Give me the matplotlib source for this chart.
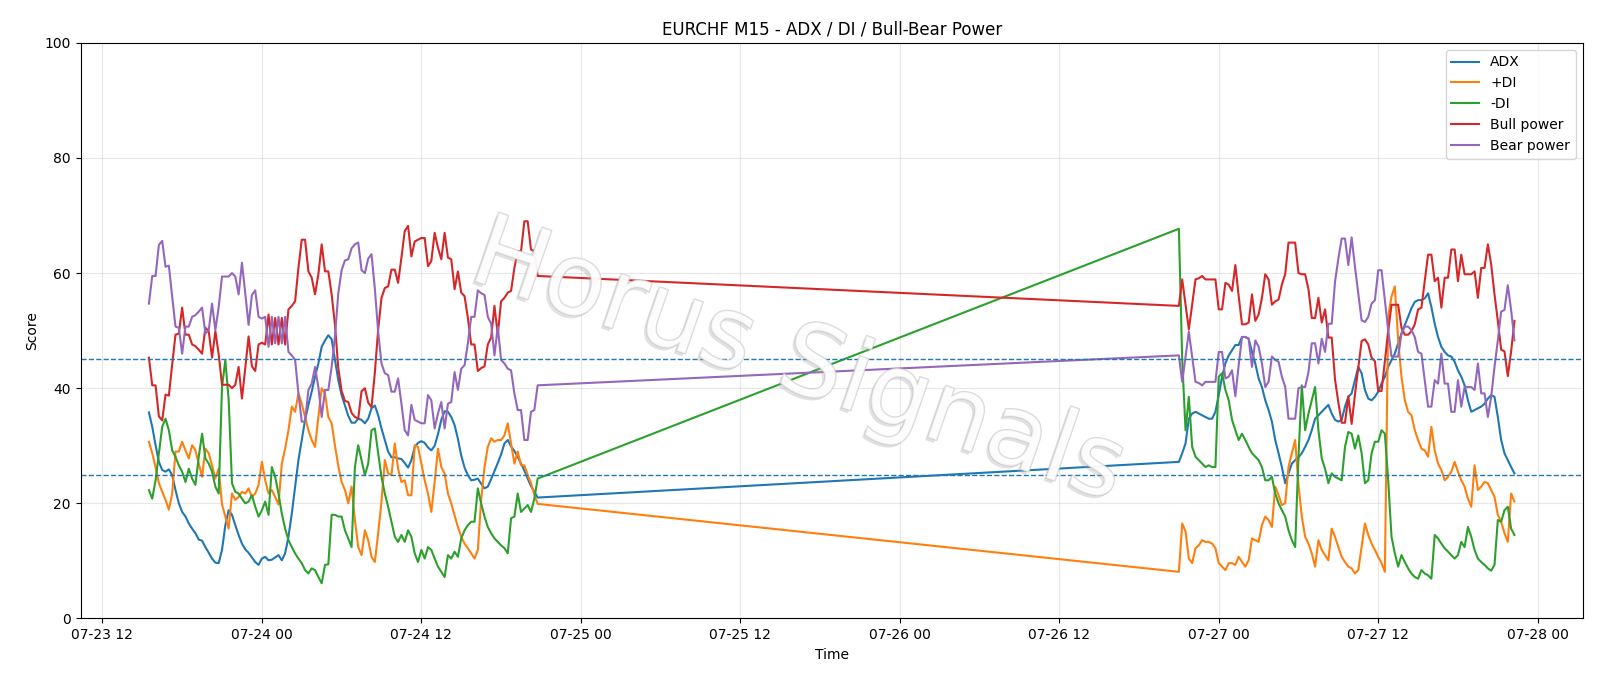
import pandas as pd
import matplotlib
matplotlib.use('Agg')
import matplotlib.pyplot as plt
import matplotlib.dates as mdates
import matplotlib.patheffects as pe

# M15 bars: first block (Thu/Fri), second block (Sun open -> Mon)
start1 = '2020-07-23 15:30'
start2 = '2020-07-26 21:00'

adx1 = [35.8, 33.3, 30.1, 27.2, 25.8, 25.5, 25.9, 24.9, 22.3, 20.0,
        18.5, 17.7, 16.5, 15.6, 14.8, 13.7, 13.5, 12.4, 11.4, 10.4,
        9.7, 9.6, 11.9, 16.2, 18.8, 18.0, 16.2, 14.5, 13.0, 12.0,
        11.4, 10.6, 9.8, 9.3, 10.4, 10.7, 10.1, 10.2, 10.6, 11.0,
        10.1, 11.3, 14.2, 18.2, 22.9, 27.5, 31.0, 34.5, 37.1, 39.4,
        42.0, 44.3, 47.2, 48.3, 49.2, 48.5, 45.0, 41.4, 38.8, 37.0,
        35.2, 34.0, 34.0, 34.7, 34.5, 33.9, 34.7, 36.5, 37.0, 35.3,
        33.0, 31.0, 29.0, 28.0, 28.0, 27.8, 27.7, 27.0, 26.2, 27.5,
        29.8, 30.5, 30.8, 30.5, 29.7, 29.2, 30.0, 32.0, 34.5, 36.0,
        35.9, 35.0, 33.6, 31.2, 28.3, 26.2, 24.9, 24.0, 24.1, 24.3,
        23.4, 22.6, 22.9, 24.2, 25.6, 27.0, 28.5, 30.4, 31.0, 29.9,
        29.1, 28.1, 26.9, 25.7, 24.3, 23.0, 22.0, 21.0]
pdi1 = [30.7, 28.7, 26.3, 23.5, 22.0, 20.6, 18.9, 21.7, 29.0, 29.0,
        30.7, 29.2, 27.8, 30.1, 29.2, 26.9, 24.6, 29.5, 28.7, 26.6,
        24.3, 26.0, 19.8, 17.7, 15.6, 21.7, 20.6, 21.1, 22.0, 21.7,
        22.6, 21.1, 21.7, 23.2, 27.2, 24.0, 21.7, 22.3, 21.1, 19.8,
        26.9, 29.5, 32.7, 36.8, 35.9, 39.1, 37.3, 35.0, 32.7, 31.0,
        29.8, 35.0, 40.0, 39.1, 35.0, 33.9, 30.0, 26.5, 23.7, 22.3,
        20.0, 22.9, 17.1, 12.4, 11.0, 15.3, 13.6, 10.7, 9.8, 14.8,
        20.3, 27.5, 25.2, 24.9, 30.4, 26.0, 23.7, 24.0, 21.4, 21.4,
        30.1, 29.8, 26.9, 24.0, 21.7, 18.5, 23.7, 29.5, 26.3, 25.2,
        21.7, 20.0, 17.9, 15.9, 14.2, 13.0, 12.2, 11.3, 10.4, 11.9,
        20.6, 26.3, 29.8, 31.3, 30.7, 31.0, 31.0, 31.8, 33.9, 30.4,
        26.9, 29.0, 26.6, 26.6, 24.9, 23.5, 21.5, 19.9]
mdi1 = [22.3, 20.8, 24.0, 28.7, 33.3, 34.7, 32.7, 29.2, 28.1, 26.6,
        25.5, 23.7, 26.0, 24.3, 23.2, 28.1, 32.1, 27.8, 26.9, 25.5,
        22.9, 21.7, 40.2, 44.9, 38.0, 23.5, 22.0, 21.7, 20.8, 20.0,
        20.3, 21.4, 19.4, 17.7, 18.8, 20.3, 18.0, 26.3, 24.6, 21.7,
        18.2, 15.6, 13.6, 12.4, 11.3, 10.4, 9.6, 8.4, 7.8, 8.7,
        8.4, 7.2, 6.1, 9.3, 9.4, 18.0, 18.0, 17.7, 17.7, 15.3,
        13.9, 12.4, 26.3, 30.1, 27.5, 24.9, 26.9, 32.7, 33.0, 28.7,
        24.6, 21.7, 19.4, 16.8, 14.2, 13.3, 14.5, 13.3, 15.3, 14.2,
        11.3, 9.8, 11.9, 10.4, 12.4, 11.9, 10.4, 9.0, 8.1, 7.2,
        11.0, 10.4, 11.6, 10.7, 13.9, 15.3, 16.2, 16.8, 16.8, 22.6,
        20.0, 17.7, 15.9, 14.8, 13.9, 13.3, 12.7, 12.2, 11.3, 17.4,
        17.7, 21.7, 18.5, 19.1, 19.7, 18.5, 20.8, 24.3]
bull1 = [45.3, 40.5, 40.5, 35.1, 34.4, 38.9, 38.7, 44.1, 49.3, 49.5,
         54.0, 49.3, 49.3, 47.6, 47.3, 46.7, 46.0, 50.5, 49.9, 45.3,
         49.9, 45.9, 40.6, 40.6, 40.6, 40.0, 40.6, 43.7, 38.2, 43.5,
         49.0, 43.8, 43.0, 47.6, 47.9, 47.6, 52.8, 47.6, 52.2, 47.6,
         52.2, 47.6, 53.7, 54.3, 55.1, 60.9, 65.8, 65.8, 60.3, 59.2,
         56.3, 59.8, 65.0, 60.3, 60.3, 56.3, 51.0, 43.5, 39.5, 37.8,
         37.6, 35.7, 35.0, 34.7, 39.5, 40.0, 37.5, 36.7, 42.7, 50.2,
         55.7, 57.4, 57.7, 60.6, 60.6, 58.3, 62.7, 67.3, 68.2, 62.9,
         65.5, 65.8, 66.1, 66.1, 61.2, 62.1, 67.0, 64.4, 62.4, 67.0,
         62.7, 62.4, 57.2, 60.3, 56.6, 56.0, 52.2, 47.6, 47.6, 43.0,
         43.5, 43.8, 47.6, 48.8, 54.3, 49.3, 55.1, 55.7, 56.6, 56.9,
         60.9, 63.8, 63.8, 69.0, 69.0, 64.1, 63.8, 59.5]
bear1 = [54.7, 59.5, 59.5, 64.9, 65.6, 61.1, 61.3, 55.9, 50.7, 50.5,
         46.0, 50.7, 50.7, 52.4, 52.7, 53.3, 54.0, 49.5, 50.1, 54.7,
         50.1, 54.1, 59.4, 59.4, 59.4, 60.0, 59.4, 56.3, 61.8, 56.5,
         51.0, 56.2, 57.0, 52.4, 52.1, 52.4, 47.2, 52.4, 47.8, 52.4,
         47.8, 52.4, 46.3, 45.7, 44.9, 39.1, 34.2, 34.2, 39.7, 40.8,
         43.7, 40.2, 35.0, 39.7, 39.7, 43.7, 49.0, 56.5, 60.5, 62.2,
         62.4, 64.3, 65.0, 65.3, 60.5, 60.0, 62.5, 63.3, 57.3, 49.8,
         44.3, 42.6, 42.3, 39.4, 39.4, 41.7, 37.3, 32.7, 31.8, 37.1,
         34.5, 34.2, 33.9, 33.9, 38.8, 37.9, 33.0, 35.6, 37.6, 33.0,
         37.3, 37.6, 42.8, 39.7, 43.4, 44.0, 47.8, 52.4, 52.4, 57.0,
         56.5, 56.2, 52.4, 51.2, 45.7, 50.7, 44.9, 44.3, 43.4, 43.1,
         39.1, 36.2, 36.2, 31.0, 31.0, 35.9, 36.2, 40.5]

adx2 = [27.2, 28.7, 30.4, 34.7, 35.6, 35.9, 35.6, 35.3, 35.0, 34.7,
        34.7, 35.9, 38.8, 42.0, 44.3, 45.7, 46.6, 47.5, 47.5, 48.9,
        48.9, 48.6, 46.3, 44.3, 41.7, 40.2, 37.9, 36.2, 34.2, 31.0,
        28.7, 26.3, 23.5, 25.2, 26.9, 27.5, 28.0, 28.7, 29.8, 31.0,
        32.7, 34.7, 35.3, 35.9, 36.5, 37.1, 35.6, 34.5, 34.2, 34.5,
        36.8, 38.5, 39.1, 41.4, 43.7, 42.6, 39.7, 38.2, 37.9, 38.5,
        39.4, 40.8, 42.0, 43.7, 44.9, 46.0, 47.8, 49.5, 51.0, 52.4,
        53.9, 55.0, 55.3, 55.3, 55.6, 56.5, 54.1, 51.2, 48.9, 47.2,
        46.3, 45.7, 45.5, 44.6, 43.1, 42.0, 40.5, 37.9, 35.9, 36.2,
        36.5, 36.8, 37.3, 38.2, 38.8, 38.5, 35.0, 31.0, 28.7, 27.5,
        26.3, 25.2]
pdi2 = [8.1, 16.5, 15.1, 10.4, 9.6, 12.2, 12.7, 13.6, 13.3, 13.3,
        13.0, 12.2, 9.6, 9.0, 8.4, 9.6, 9.6, 9.3, 10.7, 9.8,
        9.0, 10.1, 13.9, 13.6, 13.3, 16.2, 17.7, 17.1, 15.9, 22.9,
        21.4, 19.7, 20.0, 26.3, 28.7, 31.0, 23.2, 17.7, 14.2, 13.0,
        11.3, 9.0, 13.6, 11.9, 11.0, 10.1, 15.6, 14.2, 12.4, 10.7,
        9.8, 9.0, 8.7, 7.8, 8.4, 12.4, 16.5, 14.5, 13.0, 11.9,
        10.7, 9.6, 8.1, 52.5, 55.9, 57.7, 48.3, 42.0, 37.9, 35.9,
        35.3, 32.7, 31.0, 29.5, 29.2, 28.1, 33.3, 29.2, 26.9, 25.8,
        24.0, 24.6, 25.5, 27.2, 25.5, 24.0, 22.9, 20.8, 19.4, 26.6,
        22.3, 22.9, 23.7, 23.5, 22.3, 21.1, 18.0, 16.8, 14.8, 13.3,
        21.7, 20.3]
mdi2 = [67.7, 45.0, 32.7, 38.5, 29.8, 28.1, 27.5, 26.9, 26.3, 26.6,
        26.3, 26.3, 42.0, 42.6, 39.7, 37.9, 34.5, 32.7, 31.0, 32.1,
        31.0, 29.8, 28.7, 28.1, 27.5, 26.3, 24.0, 24.0, 24.6, 21.7,
        20.0, 18.8, 17.7, 15.3, 13.6, 12.4, 28.1, 40.5, 32.7, 35.6,
        37.9, 40.2, 32.7, 27.8, 26.0, 23.5, 25.2, 24.6, 24.3, 24.0,
        29.8, 32.4, 32.1, 29.5, 31.8, 28.7, 23.5, 24.0, 28.7, 30.7,
        30.7, 32.7, 32.1, 24.0, 14.2, 11.3, 9.0, 11.0, 9.8, 8.7,
        7.8, 7.2, 6.9, 8.4, 7.8, 7.5, 6.9, 14.5, 13.9, 13.0,
        12.2, 11.6, 11.0, 10.4, 11.0, 13.3, 12.4, 15.9, 14.2, 11.9,
        10.4, 9.8, 9.3, 8.7, 8.3, 9.3, 17.1, 16.8, 18.8, 19.4,
        15.6, 14.5]
bull2 = [54.3, 58.9, 54.5, 50.2, 54.5, 58.9, 59.1, 59.5, 58.9, 58.9,
         58.9, 58.9, 53.7, 53.7, 58.3, 58.0, 56.9, 61.4, 56.0, 51.1,
         51.1, 51.4, 56.3, 51.7, 52.8, 55.7, 59.8, 58.9, 54.5, 55.1,
         55.4, 58.0, 59.8, 65.3, 65.3, 65.3, 60.0, 59.8, 59.8, 57.2,
         52.2, 52.2, 55.7, 51.4, 53.7, 48.8, 48.8, 41.5, 37.5, 34.0,
         34.0, 38.6, 33.8, 38.9, 43.5, 48.2, 48.5, 47.6, 45.3, 44.7,
         39.5, 39.5, 44.7, 49.9, 54.5, 54.5, 54.5, 50.5, 49.3, 49.3,
         49.9, 51.1, 53.7, 54.0, 58.6, 63.2, 63.2, 58.6, 59.2, 54.0,
         59.2, 59.2, 64.1, 64.1, 58.6, 63.2, 59.8, 59.8, 59.8, 60.3,
         55.7, 60.9, 60.9, 65.0, 61.5, 56.3, 51.7, 46.7, 46.4, 42.1,
         46.4, 51.7]
bear2 = [45.7, 41.1, 45.5, 49.8, 45.5, 41.1, 40.9, 40.5, 41.1, 41.1,
         41.1, 41.1, 46.3, 46.3, 41.7, 42.0, 43.1, 38.6, 44.0, 48.9,
         48.9, 48.6, 43.7, 48.3, 47.2, 44.3, 40.2, 41.1, 45.5, 44.9,
         44.6, 42.0, 40.2, 34.7, 34.7, 34.7, 40.0, 40.2, 40.2, 42.8,
         47.8, 47.8, 44.3, 48.6, 46.3, 51.2, 51.2, 58.5, 62.5, 66.0,
         66.0, 61.4, 66.2, 61.1, 56.5, 51.8, 51.5, 52.4, 54.7, 55.3,
         60.5, 60.5, 55.3, 50.1, 45.5, 45.5, 45.5, 49.5, 50.7, 50.7,
         50.1, 48.9, 46.3, 46.0, 41.4, 36.8, 36.8, 41.4, 40.8, 46.0,
         40.8, 40.8, 35.9, 35.9, 41.4, 36.8, 40.2, 40.2, 40.2, 39.7,
         44.3, 39.1, 39.1, 35.0, 38.5, 43.7, 48.3, 53.3, 53.6, 57.9,
         53.6, 48.3]

# tabla con el indice de tiempo
t = pd.date_range(start1, periods=len(adx1), freq='15min').append(
    pd.date_range(start2, periods=len(adx2), freq='15min'))
df = pd.DataFrame({
    'ADX': adx1 + adx2,
    '+DI': pdi1 + pdi2,
    '-DI': mdi1 + mdi2,
    'Bull power': bull1 + bull2,
    'Bear power': bear1 + bear2,
}, index=t)

fig, ax = plt.subplots(figsize=(16, 6.86), dpi=100)
fig.subplots_adjust(left=0.0504, right=0.9892, bottom=0.0985, top=0.9375)

for col in df.columns:
    ax.plot(df.index, df[col], label=col)

ax.axhline(25, linestyle='--', linewidth=1)
ax.axhline(45, linestyle='--', linewidth=1)

ax.set_ylim(0, 100)
ax.set_title('EURCHF M15 - ADX / DI / Bull-Bear Power')
ax.set_xlabel('Time')
ax.set_ylabel('Score')
ax.xaxis.set_major_locator(mdates.HourLocator(byhour=[0, 12]))
ax.xaxis.set_major_formatter(mdates.DateFormatter('%m-%d %H'))
ax.grid(alpha=0.3)
ax.legend(loc='upper right')

# marca de agua
fig.text(0.499, 0.47, 'Horus Signals', fontsize=72, color='white', alpha=0.55,
         rotation=-19, ha='center', va='center', zorder=10,
         path_effects=[pe.withSimplePatchShadow(offset=(-2, -2), shadow_rgbFace='#aaaaaa', alpha=0.35),
                       pe.Stroke(linewidth=1.2, foreground='#c4c4c4', alpha=0.7),
                       pe.Normal()])

fig.savefig('out.png', dpi=100)
